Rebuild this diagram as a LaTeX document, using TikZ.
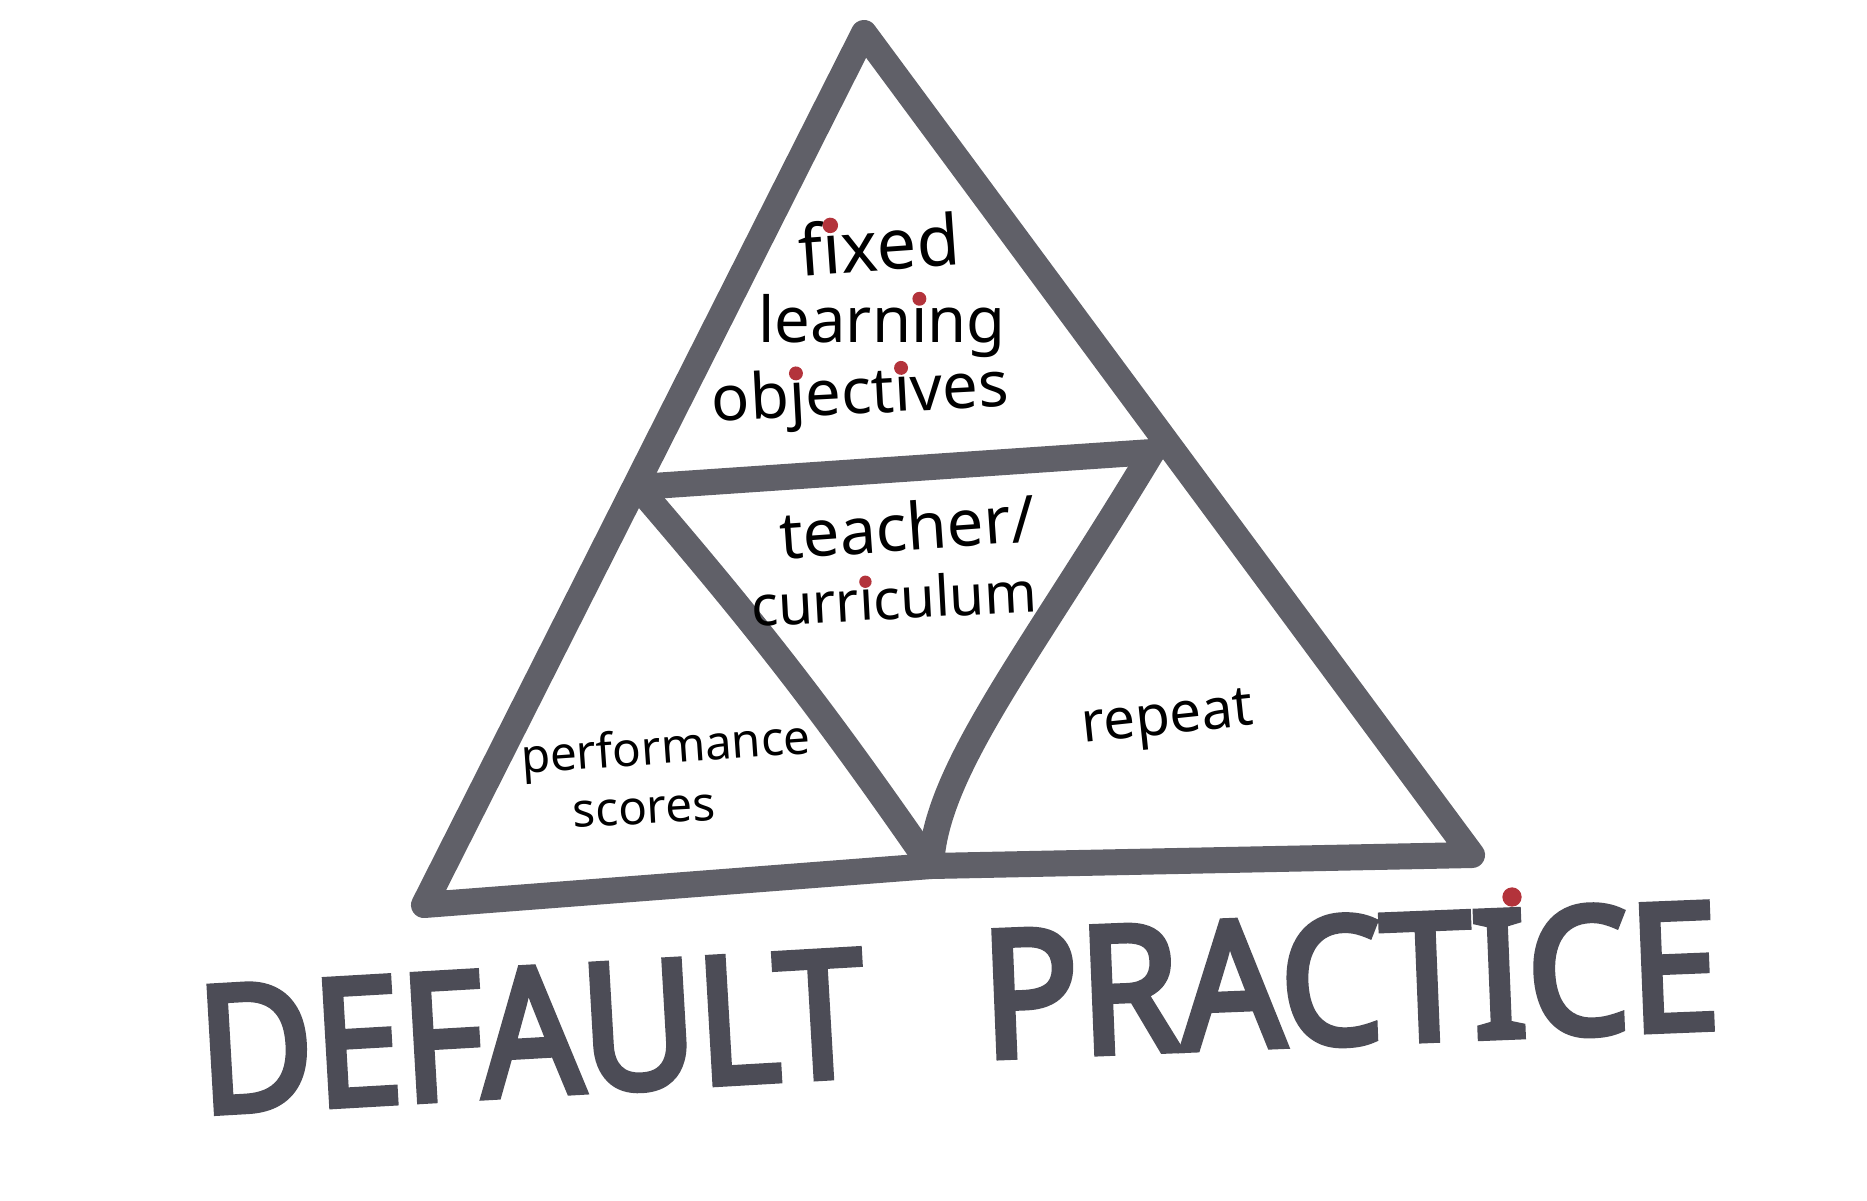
\documentclass[tikz,border=0pt]{standalone}
\usepackage{fontspec}
\usepackage{graphicx}
\setmainfont{Noto Sans}
\newfontfamily\headfont{Noto Sans}[FakeBold=4]
\usetikzlibrary{positioning}

\definecolor{marker}{HTML}{606068}
\definecolor{headink}{HTML}{4C4C56}
\definecolor{inkred}{HTML}{B3333B}

% letter with a red dot on top (dotless i / j as argument)
\newcommand{\rdot}[1]{\ooalign{#1\cr\hidewidth\raisebox{0.58em}{\tikz\fill[inkred] (0,0) circle (0.11em);}\hidewidth\cr}}

\tikzset{
  pen/.style={draw=marker,line width=7.4pt,line cap=round,line join=round},
  word/.style={inner sep=0pt,font=\fontsize{18}{21}\selectfont},
  heading/.style={inner sep=0pt,text=headink,font=\fontsize{50}{60}\headfont}
}

\begin{document}
\begin{tikzpicture}[x=0.01cm,y=-0.01cm]
    \useasboundingbox (0,0) rectangle (1867,1200);

    % corners
    \coordinate (apex) at (864,33);
    \coordinate (bl) at (424,905);
    \coordinate (br) at (1472,855);
    \coordinate (ml) at (638,487);
    \coordinate (mr) at (1152,452);
    \coordinate (bm) at (931,866);

    % triangles
    \draw[pen] (apex) -- (bl) -- (bm) -- (br) -- cycle;
    \draw[pen] (ml) -- (mr);
    \draw[pen] (ml) to[bend left=3] (bm);
    \draw[pen] (mr) .. controls (1030,655) and (935,770) .. (bm);

    % labels
    \node[word,font=\fontsize{20}{23}\selectfont,rotate=4] (fixed) at (879,244) {f\rdot{ı}xed};
    \node[word] (learning) at (882,326) {learn\rdot{ı}ng};
    \node[word,rotate=3] (objectives) at (860,390) {ob\rdot{ȷ}ect\rdot{ı}ves};

    \node[word,font=\fontsize{18.5}{21}\selectfont,rotate=4] (teacher) at (907,526) {teacher/};
    \node[word,font=\fontsize{16}{20}\selectfont,rotate=3] (curriculum) at (894,598) {curr\rdot{ı}culum};

    \node[word,font=\fontsize{13.5}{16}\selectfont,rotate=4] (performance) at (666,751) {performance};
    \node[word,font=\fontsize{13.5}{16}\selectfont,rotate=3] (scores) at (644,811) {scores};

    \node[word,font=\fontsize{16}{20}\selectfont,rotate=6] (repeat) at (1168,722) {repeat};

    % title
    \node[heading,rotate=3.3] (default) at (531,1032) {\scalebox{0.9}[1]{DEFAULT}};
    \node[heading,rotate=2.3] (practice) at (1350,980) {\scalebox{0.92}[1]{PRACTICE}};
    \node[circle,fill=inkred,inner sep=0pt,minimum size=5.5pt] (idot) at (1512,897) {};
\end{tikzpicture}
\end{document}
